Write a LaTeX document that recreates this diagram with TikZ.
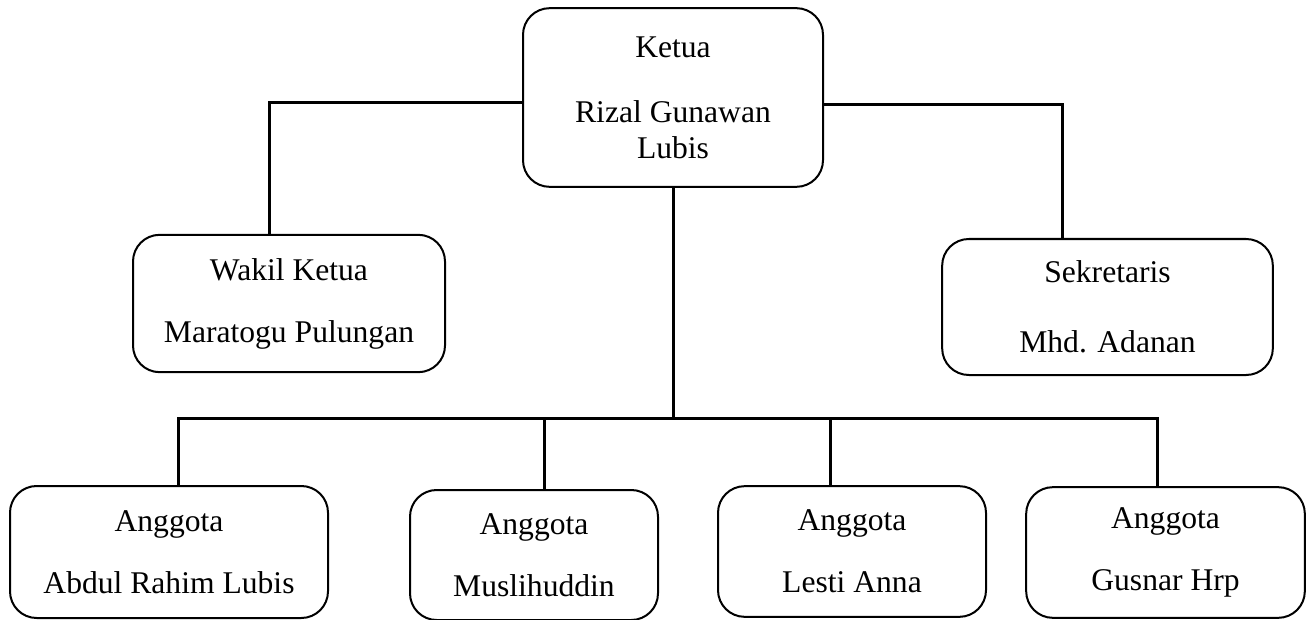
\documentclass[tikz,border=0pt]{standalone}
\usepackage{fontspec}
\setmainfont{Liberation Serif}

\begin{document}
\begin{tikzpicture}[x=0.75pt, y=-0.75pt,
  box/.style={draw, line width=1.5pt, rounded corners=20pt, align=center,
    inner sep=0pt, font=\fontsize{23.7}{27}\selectfont},
  link/.style={line width=2.25pt, line cap=rect}]
  \useasboundingbox (0, 0) rectangle (1312, 620);

  \node[box, minimum width=225pt, minimum height=134pt] (ketua) at (673, 97.5)
    {Ketua\\[21.75pt]Rizal Gunawan\\Lubis};
  \node[box, minimum width=234pt, minimum height=103pt] (wakil) at (289, 303.5)
    {Wakil Ketua\\[19.5pt]Maratogu Pulungan};
  \node[box, minimum width=248pt, minimum height=102pt] (sekretaris) at (1107.5, 307)
    {Sekretaris\\[25.5pt]Mhd. Adanan};

  \node[box, minimum width=238.5pt, minimum height=99pt] (a1) at (169, 552)
    {Anggota\\[19.5pt]Abdul Rahim Lubis};
  \node[box, minimum width=186pt, minimum height=97.5pt] (a2) at (534, 555)
    {Anggota\\[19.5pt]Muslihuddin};
  \node[box, minimum width=201pt, minimum height=98pt] (a3) at (852, 551.5)
    {Anggota\\[19.5pt]Lesti Anna};
  \node[box, minimum width=209pt, minimum height=98pt] (a4) at (1165.5, 552.5)
    {Anggota\\[19.5pt]Gusnar Hrp};

  \draw[link] ([yshift=-3.4pt]ketua.west) -| ([xshift=-15pt]wakil.north);
  \draw[link] ([yshift=-5pt]ketua.east) -| ([xshift=-33.4pt]sekretaris.north);

  \foreach \n/\x in {a1/178, a2/544, a3/830, a4/1157} {
    \coordinate (d\n) at (\x, 418);
    \draw[link] (d\n) -- (d\n |- \n.north);
  }
  \draw[link] (da1) -- (da4);
  \draw[link] (ketua.south) -- (ketua.south |- da1);

\end{tikzpicture}
\end{document}
